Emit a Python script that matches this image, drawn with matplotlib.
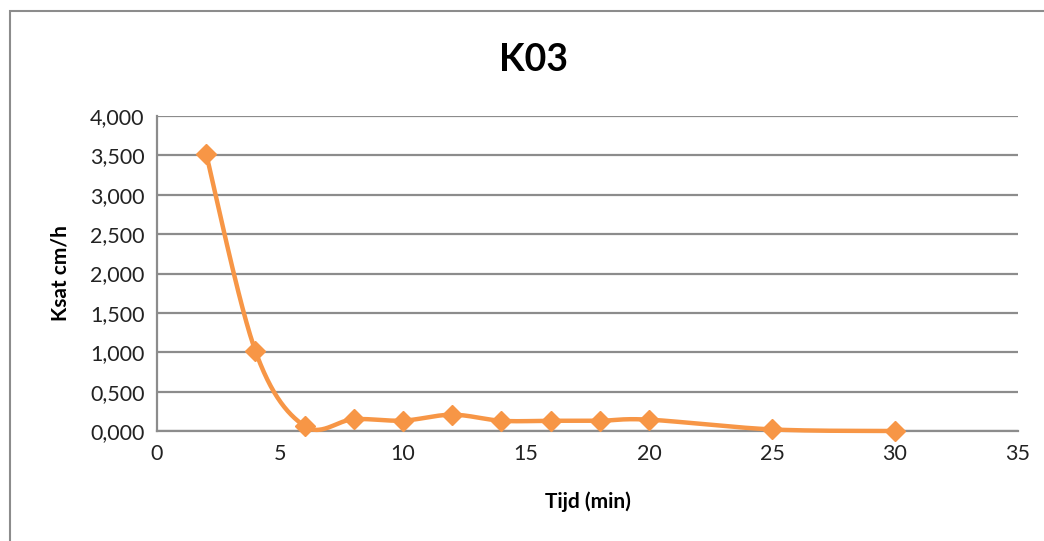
import numpy as np
import matplotlib.pyplot as plt
from matplotlib.patches import Rectangle

plt.rcParams['font.family'] = ['Lato', 'DejaVu Sans']

# data
tijd = [2, 4, 6, 8, 10, 12, 14, 16, 18, 20, 25, 30]
ksat = [3.515, 1.015, 0.063, 0.150, 0.132, 0.207, 0.130, 0.130, 0.130, 0.144, 0.020, 0.000]
y_ticks = [0, 0.5, 1, 1.5, 2, 2.5, 3, 3.5, 4]
x_ticks = [0, 5, 10, 15, 20, 25, 30, 35]


def smooth(x, y, n=30):
    # Excel style smoothed line: Bezier segments with Catmull-Rom control points
    x = np.asarray(x, float)
    y = np.asarray(y, float)
    px = np.concatenate([[x[0]], x, [x[-1]]])
    py = np.concatenate([[y[0]], y, [y[-1]]])
    xs, ys = [], []
    t = np.linspace(0, 1, n)
    for i in range(1, len(px) - 2):
        p0 = np.array([px[i], py[i]])
        p3 = np.array([px[i + 1], py[i + 1]])
        p1 = p0 + (np.array([px[i + 1], py[i + 1]]) - np.array([px[i - 1], py[i - 1]])) / 6
        p2 = p3 - (np.array([px[i + 2], py[i + 2]]) - np.array([px[i], py[i]])) / 6
        b = ((1 - t) ** 3)[:, None] * p0 + (3 * (1 - t) ** 2 * t)[:, None] * p1 \
            + (3 * (1 - t) * t ** 2)[:, None] * p2 + (t ** 3)[:, None] * p3
        xs.extend(b[:, 0])
        ys.extend(b[:, 1])
    return xs, ys


fig = plt.figure(figsize=(10.44, 5.41), dpi=100)
fig.patches.append(Rectangle((10 / 1044, -0.1), 1.2, 1 - 11 / 541 + 0.1,
                             transform=fig.transFigure, fill=False,
                             edgecolor='#8c8c8c', linewidth=1.5))

ax = fig.add_axes([157 / 1044, 1 - 431 / 541, (1018 - 157) / 1044, (431 - 116) / 541])
sx, sy = smooth(tijd, ksat)
ax.plot(sx, sy, color='#F79646', linewidth=3.2, zorder=3, clip_on=False)
ax.plot(tijd, ksat, linestyle='none', marker='D', markersize=10,
        color='#F79646', zorder=4, clip_on=False)

ax.set_xlim(0, 35)
ax.set_ylim(0, 4)
ax.set_xticks(x_ticks)
ax.set_yticks(y_ticks)
ax.set_yticklabels([f'{v:.3f}'.replace('.', ',') for v in y_ticks])
ax.tick_params(length=0, labelsize=15.5, colors='#222222', pad=9)
ax.grid(axis='y', color='#8c8c8c', linewidth=1.6)
ax.set_axisbelow(True)
for s in ['top', 'right']:
    ax.spines[s].set_visible(False)
for s in ['left', 'bottom']:
    ax.spines[s].set_color('#8c8c8c')
    ax.spines[s].set_linewidth(1.6)

fig.text(533 / 1044, 1 - 60 / 541, 'K03', fontsize=27, fontweight='bold',
         ha='center', va='center')
ax.set_xlabel('Tijd (min)', fontsize=15, fontweight='bold', labelpad=20)
ax.set_ylabel('Ksat cm/h', fontsize=15, fontweight='bold', labelpad=14)

plt.savefig('out.png', dpi=100)
